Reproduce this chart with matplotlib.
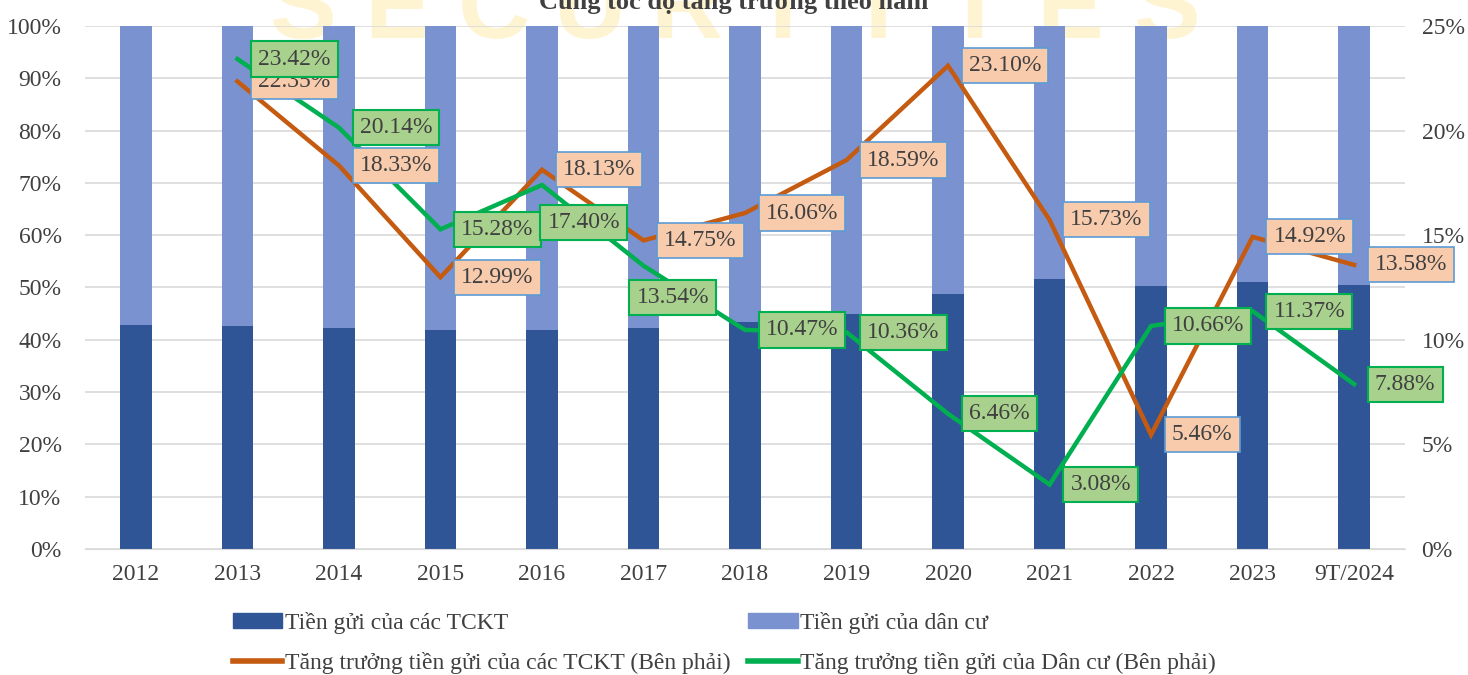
import numpy as np
import matplotlib
matplotlib.use("Agg")
import matplotlib.pyplot as plt
from matplotlib.ticker import PercentFormatter, MultipleLocator
from matplotlib.patches import Patch
from matplotlib.lines import Line2D

# ---- data ----
years = ["2012", "2013", "2014", "2015", "2016", "2017", "2018", "2019",
         "2020", "2021", "2022", "2023", "9T/2024"]
share_tckt = [42.8, 42.6, 42.2, 41.8, 41.8, 42.2, 43.4, 45.0, 48.7, 51.6, 50.3, 51.1, 50.5]
share_dancu = [100 - v for v in share_tckt]
growth_tckt = [None, 22.35, 18.33, 12.99, 18.13, 14.75, 16.06, 18.59, 23.10, 15.73, 5.46, 14.92, 13.58]
growth_dancu = [None, 23.42, 20.14, 15.28, 17.40, 13.54, 10.47, 10.36, 6.46, 3.08, 10.66, 11.37, 7.88]

TITLE = "Cùng tốc độ tăng trưởng theo năm"
LBL_BAR1 = "Tiền gửi của các TCKT"
LBL_BAR2 = "Tiền gửi của dân cư"
LBL_LINE1 = "Tăng trưởng tiền gửi của các TCKT (Bên phải)"
LBL_LINE2 = "Tăng trưởng tiền gửi của Dân cư (Bên phải)"

# colours
C_DARK = "#2F5597"
C_LIGHT = "#7A92CF"
C_ORANGE = "#C55A11"
C_GREEN = "#00B050"
C_TEXT = "#404040"
FS = 17

plt.rcParams["font.family"] = ["Liberation Serif", "DejaVu Serif"]

fig = plt.figure(figsize=(14.68, 6.75), dpi=100)

# faint watermark behind everything
for i, ch in enumerate("SECURITIES"):
    fig.text(0.2057 + i * 0.0654, 0.944, ch, fontsize=72, color="#FFF4D2",
             family="Liberation Sans", fontweight="bold",
             ha="center", va="baseline", zorder=-5)

ax = fig.add_axes([0.058, 0.1867, 0.899, 0.7748])
ax.patch.set_alpha(0)
x = np.arange(len(years))
w = 0.31
ax.bar(x, share_tckt, w, color=C_DARK, zorder=2)
ax.bar(x, share_dancu, w, bottom=share_tckt, color=C_LIGHT, zorder=2)
ax.set_ylim(0, 100)
ax.set_xlim(-0.5, len(years) - 0.5)
ax.yaxis.set_major_locator(MultipleLocator(10))
ax.yaxis.set_major_formatter(PercentFormatter(decimals=0))
ax.grid(axis="y", color="#D9D9D9", linewidth=1.2, zorder=0)
ax.set_axisbelow(True)
ax.set_xticks(x)
ax.set_xticklabels(years)
for s in ax.spines.values():
    s.set_visible(False)
ax.spines["bottom"].set_visible(True)
ax.spines["bottom"].set_color("#D9D9D9")
ax.tick_params(length=0, labelsize=FS, colors=C_TEXT, pad=11)
ax.tick_params(axis="y", pad=17)

ax2 = ax.twinx()
ax2.set_ylim(0, 25)
ax2.yaxis.set_major_locator(MultipleLocator(5))
ax2.yaxis.set_major_formatter(PercentFormatter(decimals=0))
for s in ax2.spines.values():
    s.set_visible(False)
ax2.tick_params(length=0, labelsize=FS, colors=C_TEXT, pad=12)

xl = x[1:]
gt = growth_tckt[1:]
gd = growth_dancu[1:]
ax2.plot(xl, gt, color=C_ORANGE, lw=3.2, solid_joinstyle="miter", zorder=3)
ax2.plot(xl, gd, color=C_GREEN, lw=3.2, solid_joinstyle="miter", zorder=4)

# label offsets (points), default to the right of each point
off_d = {4: (4, -27), 5: (-5, -23)}
for xi, v in zip(xl, gt):
    ax2.annotate(f"{v:.2f}%", (xi, v), xytext=(15, 0), textcoords="offset points",
                 ha="left", va="center", fontsize=FS, color=C_TEXT, zorder=5,
                 bbox=dict(boxstyle="square,pad=0.3", fc="#F8CBAD", ec="#5B9BD5", lw=1.2))
for xi, v in zip(xl, gd):
    dx, dy = off_d.get(xi, (15, 0))
    ax2.annotate(f"{v:.2f}%", (xi, v), xytext=(dx, dy), textcoords="offset points",
                 ha="left", va="center", fontsize=FS, color=C_TEXT, zorder=6,
                 bbox=dict(boxstyle="square,pad=0.3", fc="#A9D18E", ec=C_GREEN, lw=1.5))

fig.text(0.5, 0.997, TITLE, ha="center", va="center", fontsize=19,
         fontweight="bold", color=C_TEXT)

handles = [Patch(color=C_DARK), Line2D([], [], color=C_ORANGE, lw=4),
           Patch(color=C_LIGHT), Line2D([], [], color=C_GREEN, lw=4)]
labels = [LBL_BAR1, LBL_LINE1, LBL_BAR2, LBL_LINE2]
fig.legend(handles, labels, ncol=2, loc="lower left", bbox_to_anchor=(0.144, -0.03),
           frameon=False, fontsize=FS, labelcolor=C_TEXT, handlelength=2.1,
           handleheight=0.6, handletextpad=0.1, columnspacing=0.75, labelspacing=0.75)

fig.savefig("out.png", dpi=100)
